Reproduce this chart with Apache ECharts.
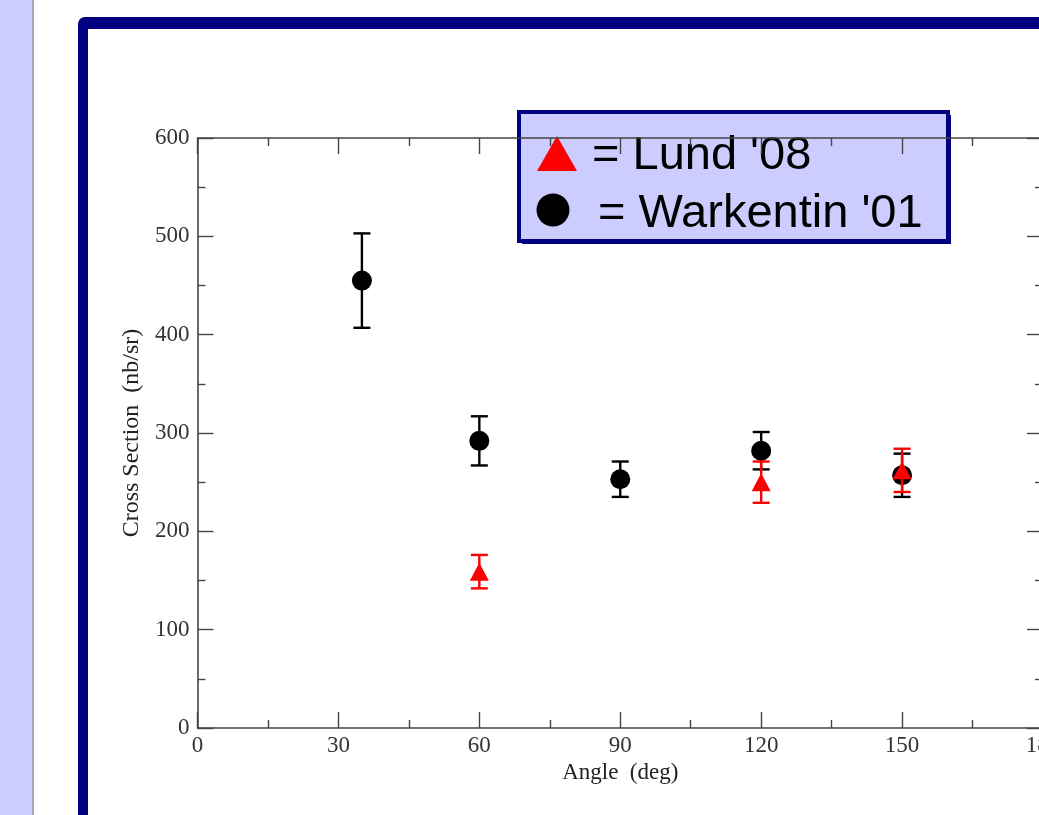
<!DOCTYPE html>
<html>
<head>
<meta charset="utf-8">
<script src="https://cdn.jsdelivr.net/npm/echarts@6/dist/echarts.min.js"></script>
<style>
  html, body { margin: 0; padding: 0; width: 1039px; height: 815px; overflow: hidden; background: #ffffff; }
  #chart { position: absolute; left: 0; top: 0; width: 1080px; height: 815px; }
</style>
</head>
<body>
<div id="chart"></div>
<script>
// ---- data ----
const xTickLabels = [0, 30, 60, 90, 120, 150, 180];
const yTickLabels = [0, 100, 200, 300, 400, 500, 600];

const warkAngles = [35, 60, 90, 120, 150];
const warkValues = [455, 292, 253, 282, 257];
const warkErrors = [48, 25, 18, 19, 22];

const lundAngles = [60, 120, 150];
const lundValues = [159, 250, 262];
const lundErrors = [17, 21, 22];

const legendLabels = ["= Lund '08", "= Warkentin '01"];
const xTitle = 'Angle  (deg)';
const yTitle = 'Cross Section  (nb/sr)';

// ---- build ----
const chart = echarts.init(document.getElementById('chart'), null, { renderer: 'canvas' });

function errData(xs, ys, es) { return xs.map((x, i) => [x, ys[i], es[i]]); }
function ptData(xs, ys) { return xs.map((x, i) => [x, ys[i]]); }

function errRenderer(color) {
  return function (params, api) {
    const x = api.value(0), y = api.value(1), e = api.value(2);
    const t = api.coord([x, y + e]);
    const b = api.coord([x, y - e]);
    const hw = 8.5;
    const st = { stroke: color, lineWidth: 2.4 };
    return {
      type: 'group',
      children: [
        { type: 'line', shape: { x1: t[0], y1: t[1], x2: b[0], y2: b[1] }, style: st },
        { type: 'line', shape: { x1: t[0] - hw, y1: t[1], x2: t[0] + hw, y2: t[1] }, style: st },
        { type: 'line', shape: { x1: b[0] - hw, y1: b[1], x2: b[0] + hw, y2: b[1] }, style: st }
      ]
    };
  };
}

const axisColor = '#444';
const labelFont = { fontFamily: 'Liberation Serif', fontSize: 23, color: '#333' };

function xAxisCfg(pos, showLabel) {
  return {
    type: 'value', position: pos, min: 0, max: 180, interval: 30,
    axisLine: { show: true, onZero: false, lineStyle: { color: axisColor, width: 1.6 } },
    axisTick: { show: true, inside: true, length: 16, lineStyle: { color: axisColor, width: 1.4 } },
    minorTick: { show: true, splitNumber: 2, length: 8, lineStyle: { color: axisColor, width: 1.4 } },
    splitLine: { show: false },
    axisLabel: Object.assign({ show: showLabel, margin: 6, formatter: v => String(v) }, labelFont),
    name: showLabel ? xTitle : '',
    nameLocation: 'middle', nameGap: 31,
    nameTextStyle: { fontFamily: 'Liberation Serif', fontSize: 23, color: '#222' }
  };
}
function yAxisCfg(pos, showLabel) {
  return {
    type: 'value', position: pos, min: 0, max: 600, interval: 100,
    axisLine: { show: true, onZero: false, lineStyle: { color: axisColor, width: 1.6 } },
    axisTick: { show: true, inside: true, length: 16, lineStyle: { color: axisColor, width: 1.4 } },
    minorTick: { show: true, splitNumber: 2, length: 8, lineStyle: { color: axisColor, width: 1.4 } },
    splitLine: { show: false },
    axisLabel: Object.assign({ show: showLabel, margin: 8, formatter: v => String(v) }, labelFont),
    name: showLabel ? yTitle : '',
    nameLocation: 'middle', nameGap: 50,
    nameTextStyle: { fontFamily: 'Liberation Serif', fontSize: 24, color: '#222' }
  };
}

const navy = '#000080';
const lav = '#ccccff';
const legendFont = '47px "Liberation Sans", Arial, sans-serif';

const option = {
  backgroundColor: '#ffffff',
  animation: false,
  grid: { left: 197.5, top: 138, width: 845.5, height: 590 },
  xAxis: [xAxisCfg('bottom', true), xAxisCfg('top', false)],
  yAxis: [yAxisCfg('left', true), yAxisCfg('right', false)],
  graphic: [
    // slide background
    { type: 'rect', z: -10, shape: { x: 0, y: 0, width: 32, height: 815 }, style: { fill: lav } },
    { type: 'rect', z: -10, shape: { x: 32, y: 0, width: 2, height: 815 }, style: { fill: '#a8a8bc' } },
    { type: 'rect', z: -10, shape: { x: 78, y: 17, width: 1200, height: 1000, r: 7 }, style: { fill: navy } },
    { type: 'rect', z: -9, shape: { x: 88, y: 29, width: 1200, height: 1000 }, style: { fill: '#ffffff' } },
    // legend box
    {
      type: 'group', z: 100,
      children: [
        { type: 'rect', shape: { x: 522, y: 115, width: 429, height: 129 }, style: { fill: navy } },
        { type: 'rect', shape: { x: 519, y: 112, width: 429, height: 129 },
          style: { fill: lav, stroke: navy, lineWidth: 4 } },
        { type: 'polygon', shape: { points: [[537, 171], [557, 136], [577, 171]] }, style: { fill: '#ff0000' } },
        { type: 'circle', shape: { cx: 553, cy: 210, r: 16.5 }, style: { fill: '#000000' } },
        { type: 'text', x: 592, y: 156, style: { text: legendLabels[0], fill: '#000', font: legendFont, verticalAlign: 'middle', align: 'left' } },
        { type: 'text', x: 598, y: 214, style: { text: legendLabels[1], fill: '#000', font: legendFont, verticalAlign: 'middle', align: 'left' } }
      ]
    }
  ],
  series: [
    { name: 'Warkentin err', type: 'custom', renderItem: errRenderer('#000000'),
      encode: { x: 0, y: 1 }, data: errData(warkAngles, warkValues, warkErrors), z: 2 },
    { name: "Warkentin '01", type: 'scatter', symbol: 'circle', symbolSize: 20,
      itemStyle: { color: '#000000', opacity: 1 }, data: ptData(warkAngles, warkValues), z: 3 },
    { name: 'Lund err', type: 'custom', renderItem: errRenderer('#ff0000'),
      encode: { x: 0, y: 1 }, data: errData(lundAngles, lundValues, lundErrors), z: 4 },
    { name: "Lund '08", type: 'scatter', symbol: 'triangle', symbolSize: [19, 18],
      itemStyle: { color: '#ff0000', opacity: 1 }, data: ptData(lundAngles, lundValues), z: 5 }
  ]
};
chart.setOption(option);
</script>
</body>
</html>
